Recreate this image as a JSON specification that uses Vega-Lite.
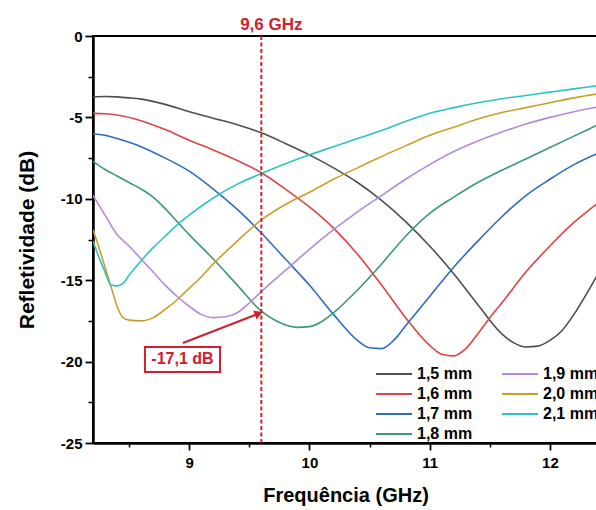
{
  "$schema": "https://vega.github.io/schema/vega-lite/v6.json",
  "width": 505,
  "height": 407,
  "autosize": {"type": "none"},
  "padding": {"left": 93, "top": 36, "right": 0, "bottom": 67},
  "background": "white",
  "config": {
    "font": "Liberation Sans",
    "view": {"stroke": "black", "strokeWidth": 2}
  },
  "datasets": {
    "curves": [
      {"s": "1,5 mm", "f": 8.2, "r": -3.75}, {"s": "1,5 mm", "f": 8.3, "r": -3.72}, {"s": "1,5 mm", "f": 8.4, "r": -3.74}, {"s": "1,5 mm", "f": 8.5, "r": -3.8}, {"s": "1,5 mm", "f": 8.6, "r": -3.88}, {"s": "1,5 mm", "f": 8.8, "r": -4.2}, {"s": "1,5 mm", "f": 9.0, "r": -4.65}, {"s": "1,5 mm", "f": 9.2, "r": -5.05}, {"s": "1,5 mm", "f": 9.4, "r": -5.45}, {"s": "1,5 mm", "f": 9.6, "r": -5.95}, {"s": "1,5 mm", "f": 9.8, "r": -6.6}, {"s": "1,5 mm", "f": 10.0, "r": -7.3}, {"s": "1,5 mm", "f": 10.2, "r": -8.1}, {"s": "1,5 mm", "f": 10.4, "r": -9.0}, {"s": "1,5 mm", "f": 10.6, "r": -10.1}, {"s": "1,5 mm", "f": 10.8, "r": -11.4}, {"s": "1,5 mm", "f": 11.0, "r": -12.9}, {"s": "1,5 mm", "f": 11.2, "r": -14.6}, {"s": "1,5 mm", "f": 11.4, "r": -16.5}, {"s": "1,5 mm", "f": 11.6, "r": -18.3}, {"s": "1,5 mm", "f": 11.7, "r": -18.85}, {"s": "1,5 mm", "f": 11.8, "r": -19.1}, {"s": "1,5 mm", "f": 11.9, "r": -19.05}, {"s": "1,5 mm", "f": 12.0, "r": -18.7}, {"s": "1,5 mm", "f": 12.1, "r": -18.1}, {"s": "1,5 mm", "f": 12.2, "r": -17.1}, {"s": "1,5 mm", "f": 12.3, "r": -15.9}, {"s": "1,5 mm", "f": 12.4, "r": -14.6},
      {"s": "1,6 mm", "f": 8.2, "r": -4.75}, {"s": "1,6 mm", "f": 8.3, "r": -4.78}, {"s": "1,6 mm", "f": 8.4, "r": -4.85}, {"s": "1,6 mm", "f": 8.6, "r": -5.2}, {"s": "1,6 mm", "f": 8.8, "r": -5.75}, {"s": "1,6 mm", "f": 9.0, "r": -6.4}, {"s": "1,6 mm", "f": 9.2, "r": -7.0}, {"s": "1,6 mm", "f": 9.4, "r": -7.65}, {"s": "1,6 mm", "f": 9.6, "r": -8.4}, {"s": "1,6 mm", "f": 9.8, "r": -9.4}, {"s": "1,6 mm", "f": 10.0, "r": -10.5}, {"s": "1,6 mm", "f": 10.2, "r": -11.8}, {"s": "1,6 mm", "f": 10.4, "r": -13.4}, {"s": "1,6 mm", "f": 10.6, "r": -15.3}, {"s": "1,6 mm", "f": 10.8, "r": -17.3}, {"s": "1,6 mm", "f": 11.0, "r": -19.0}, {"s": "1,6 mm", "f": 11.1, "r": -19.55}, {"s": "1,6 mm", "f": 11.2, "r": -19.65}, {"s": "1,6 mm", "f": 11.3, "r": -19.2}, {"s": "1,6 mm", "f": 11.4, "r": -18.3}, {"s": "1,6 mm", "f": 11.5, "r": -17.3}, {"s": "1,6 mm", "f": 11.6, "r": -16.4}, {"s": "1,6 mm", "f": 11.8, "r": -14.5}, {"s": "1,6 mm", "f": 12.0, "r": -12.9}, {"s": "1,6 mm", "f": 12.2, "r": -11.45}, {"s": "1,6 mm", "f": 12.4, "r": -10.25},
      {"s": "1,7 mm", "f": 8.2, "r": -6.0}, {"s": "1,7 mm", "f": 8.3, "r": -6.1}, {"s": "1,7 mm", "f": 8.4, "r": -6.3}, {"s": "1,7 mm", "f": 8.6, "r": -6.8}, {"s": "1,7 mm", "f": 8.8, "r": -7.5}, {"s": "1,7 mm", "f": 9.0, "r": -8.3}, {"s": "1,7 mm", "f": 9.2, "r": -9.4}, {"s": "1,7 mm", "f": 9.4, "r": -10.65}, {"s": "1,7 mm", "f": 9.6, "r": -12.1}, {"s": "1,7 mm", "f": 9.8, "r": -13.7}, {"s": "1,7 mm", "f": 10.0, "r": -15.3}, {"s": "1,7 mm", "f": 10.2, "r": -17.1}, {"s": "1,7 mm", "f": 10.4, "r": -18.7}, {"s": "1,7 mm", "f": 10.5, "r": -19.15}, {"s": "1,7 mm", "f": 10.6, "r": -19.2}, {"s": "1,7 mm", "f": 10.7, "r": -18.7}, {"s": "1,7 mm", "f": 10.8, "r": -17.8}, {"s": "1,7 mm", "f": 11.0, "r": -16.0}, {"s": "1,7 mm", "f": 11.2, "r": -14.2}, {"s": "1,7 mm", "f": 11.4, "r": -12.6}, {"s": "1,7 mm", "f": 11.6, "r": -11.1}, {"s": "1,7 mm", "f": 11.8, "r": -9.8}, {"s": "1,7 mm", "f": 12.0, "r": -8.8}, {"s": "1,7 mm", "f": 12.2, "r": -7.9}, {"s": "1,7 mm", "f": 12.4, "r": -7.2},
      {"s": "1,8 mm", "f": 8.2, "r": -7.7}, {"s": "1,8 mm", "f": 8.3, "r": -8.2}, {"s": "1,8 mm", "f": 8.4, "r": -8.6}, {"s": "1,8 mm", "f": 8.5, "r": -9.0}, {"s": "1,8 mm", "f": 8.6, "r": -9.4}, {"s": "1,8 mm", "f": 8.7, "r": -9.9}, {"s": "1,8 mm", "f": 8.8, "r": -10.6}, {"s": "1,8 mm", "f": 8.9, "r": -11.4}, {"s": "1,8 mm", "f": 9.0, "r": -12.2}, {"s": "1,8 mm", "f": 9.2, "r": -13.7}, {"s": "1,8 mm", "f": 9.4, "r": -15.3}, {"s": "1,8 mm", "f": 9.6, "r": -16.9}, {"s": "1,8 mm", "f": 9.7, "r": -17.4}, {"s": "1,8 mm", "f": 9.8, "r": -17.75}, {"s": "1,8 mm", "f": 9.9, "r": -17.9}, {"s": "1,8 mm", "f": 10.0, "r": -17.85}, {"s": "1,8 mm", "f": 10.1, "r": -17.55}, {"s": "1,8 mm", "f": 10.2, "r": -17.0}, {"s": "1,8 mm", "f": 10.4, "r": -15.6}, {"s": "1,8 mm", "f": 10.6, "r": -14.0}, {"s": "1,8 mm", "f": 10.8, "r": -12.3}, {"s": "1,8 mm", "f": 11.0, "r": -10.9}, {"s": "1,8 mm", "f": 11.2, "r": -9.9}, {"s": "1,8 mm", "f": 11.4, "r": -9.0}, {"s": "1,8 mm", "f": 11.6, "r": -8.25}, {"s": "1,8 mm", "f": 11.8, "r": -7.55}, {"s": "1,8 mm", "f": 12.0, "r": -6.85}, {"s": "1,8 mm", "f": 12.2, "r": -6.15}, {"s": "1,8 mm", "f": 12.4, "r": -5.45},
      {"s": "1,9 mm", "f": 8.2, "r": -9.8}, {"s": "1,9 mm", "f": 8.3, "r": -11.0}, {"s": "1,9 mm", "f": 8.4, "r": -12.2}, {"s": "1,9 mm", "f": 8.5, "r": -12.9}, {"s": "1,9 mm", "f": 8.6, "r": -13.7}, {"s": "1,9 mm", "f": 8.7, "r": -14.5}, {"s": "1,9 mm", "f": 8.8, "r": -15.3}, {"s": "1,9 mm", "f": 8.9, "r": -16.0}, {"s": "1,9 mm", "f": 9.0, "r": -16.6}, {"s": "1,9 mm", "f": 9.1, "r": -17.1}, {"s": "1,9 mm", "f": 9.2, "r": -17.3}, {"s": "1,9 mm", "f": 9.3, "r": -17.25}, {"s": "1,9 mm", "f": 9.4, "r": -17.0}, {"s": "1,9 mm", "f": 9.5, "r": -16.4}, {"s": "1,9 mm", "f": 9.6, "r": -15.7}, {"s": "1,9 mm", "f": 9.8, "r": -14.4}, {"s": "1,9 mm", "f": 10.0, "r": -13.1}, {"s": "1,9 mm", "f": 10.2, "r": -11.9}, {"s": "1,9 mm", "f": 10.4, "r": -10.8}, {"s": "1,9 mm", "f": 10.6, "r": -9.8}, {"s": "1,9 mm", "f": 10.8, "r": -8.8}, {"s": "1,9 mm", "f": 11.0, "r": -7.9}, {"s": "1,9 mm", "f": 11.2, "r": -7.1}, {"s": "1,9 mm", "f": 11.4, "r": -6.45}, {"s": "1,9 mm", "f": 11.6, "r": -5.9}, {"s": "1,9 mm", "f": 11.8, "r": -5.4}, {"s": "1,9 mm", "f": 12.0, "r": -5.0}, {"s": "1,9 mm", "f": 12.2, "r": -4.65}, {"s": "1,9 mm", "f": 12.4, "r": -4.35},
      {"s": "2,0 mm", "f": 8.2, "r": -11.9}, {"s": "2,0 mm", "f": 8.25, "r": -13.0}, {"s": "2,0 mm", "f": 8.3, "r": -14.2}, {"s": "2,0 mm", "f": 8.35, "r": -15.4}, {"s": "2,0 mm", "f": 8.4, "r": -16.6}, {"s": "2,0 mm", "f": 8.45, "r": -17.3}, {"s": "2,0 mm", "f": 8.5, "r": -17.45}, {"s": "2,0 mm", "f": 8.6, "r": -17.5}, {"s": "2,0 mm", "f": 8.7, "r": -17.3}, {"s": "2,0 mm", "f": 8.8, "r": -16.8}, {"s": "2,0 mm", "f": 8.9, "r": -16.2}, {"s": "2,0 mm", "f": 9.0, "r": -15.5}, {"s": "2,0 mm", "f": 9.1, "r": -14.8}, {"s": "2,0 mm", "f": 9.2, "r": -14.0}, {"s": "2,0 mm", "f": 9.4, "r": -12.6}, {"s": "2,0 mm", "f": 9.6, "r": -11.3}, {"s": "2,0 mm", "f": 9.8, "r": -10.35}, {"s": "2,0 mm", "f": 10.0, "r": -9.6}, {"s": "2,0 mm", "f": 10.2, "r": -8.8}, {"s": "2,0 mm", "f": 10.4, "r": -8.1}, {"s": "2,0 mm", "f": 10.6, "r": -7.4}, {"s": "2,0 mm", "f": 10.8, "r": -6.75}, {"s": "2,0 mm", "f": 11.0, "r": -6.1}, {"s": "2,0 mm", "f": 11.2, "r": -5.6}, {"s": "2,0 mm", "f": 11.4, "r": -5.1}, {"s": "2,0 mm", "f": 11.6, "r": -4.7}, {"s": "2,0 mm", "f": 11.8, "r": -4.4}, {"s": "2,0 mm", "f": 12.0, "r": -4.1}, {"s": "2,0 mm", "f": 12.2, "r": -3.8}, {"s": "2,0 mm", "f": 12.4, "r": -3.55},
      {"s": "2,1 mm", "f": 8.2, "r": -12.6}, {"s": "2,1 mm", "f": 8.25, "r": -13.6}, {"s": "2,1 mm", "f": 8.3, "r": -14.5}, {"s": "2,1 mm", "f": 8.35, "r": -15.3}, {"s": "2,1 mm", "f": 8.4, "r": -15.35}, {"s": "2,1 mm", "f": 8.45, "r": -15.2}, {"s": "2,1 mm", "f": 8.5, "r": -14.7}, {"s": "2,1 mm", "f": 8.6, "r": -13.8}, {"s": "2,1 mm", "f": 8.7, "r": -13.0}, {"s": "2,1 mm", "f": 8.8, "r": -12.3}, {"s": "2,1 mm", "f": 8.9, "r": -11.6}, {"s": "2,1 mm", "f": 9.0, "r": -11.0}, {"s": "2,1 mm", "f": 9.2, "r": -9.95}, {"s": "2,1 mm", "f": 9.4, "r": -9.1}, {"s": "2,1 mm", "f": 9.6, "r": -8.45}, {"s": "2,1 mm", "f": 9.8, "r": -7.85}, {"s": "2,1 mm", "f": 10.0, "r": -7.3}, {"s": "2,1 mm", "f": 10.2, "r": -6.8}, {"s": "2,1 mm", "f": 10.4, "r": -6.3}, {"s": "2,1 mm", "f": 10.6, "r": -5.8}, {"s": "2,1 mm", "f": 10.8, "r": -5.25}, {"s": "2,1 mm", "f": 11.0, "r": -4.75}, {"s": "2,1 mm", "f": 11.2, "r": -4.4}, {"s": "2,1 mm", "f": 11.4, "r": -4.1}, {"s": "2,1 mm", "f": 11.6, "r": -3.85}, {"s": "2,1 mm", "f": 11.8, "r": -3.65}, {"s": "2,1 mm", "f": 12.0, "r": -3.45}, {"s": "2,1 mm", "f": 12.2, "r": -3.25}, {"s": "2,1 mm", "f": 12.4, "r": -3.05}
    ]
  },
  "layer": [
    {
      "data": {"name": "curves"},
      "mark": {"type": "line", "strokeWidth": 1.6, "clip": true, "interpolate": "monotone"},
      "encoding": {
        "x": {
          "field": "f", "type": "quantitative",
          "scale": {"domain": [8.2, 12.4], "nice": false, "zero": false},
          "axis": {
            "orient": "bottom", "values": [9, 10, 11, 12], "title": "Frequência (GHz)",
            "grid": false, "domainColor": "black", "domainWidth": 2.5,
            "tickColor": "black", "tickWidth": 1.8, "tickSize": 7,
            "labelFontSize": 15, "labelFontWeight": "bold", "labelColor": "black", "labelPadding": 5,
            "titleFontSize": 20, "titleFontWeight": "bold", "titleColor": "black", "titlePadding": 15
          }
        },
        "y": {
          "field": "r", "type": "quantitative",
          "scale": {"domain": [-25, 0], "nice": false, "zero": false},
          "axis": {
            "orient": "left", "values": [-25, -20, -15, -10, -5, 0], "title": "Refletividade (dB)",
            "labelExpr": "datum.value < 0 ? '-' + abs(datum.value) : '' + datum.value",
            "grid": false, "domainColor": "black", "domainWidth": 2.5,
            "tickColor": "black", "tickWidth": 1.8, "tickSize": 8,
            "labelFontSize": 15, "labelFontWeight": "bold", "labelColor": "black", "labelPadding": 3,
            "titleFontSize": 21, "titleFontWeight": "bold", "titleColor": "black", "titlePadding": 23
          }
        },
        "color": {
          "field": "s", "type": "nominal",
          "scale": {
            "domain": ["1,5 mm", "1,6 mm", "1,7 mm", "1,8 mm", "1,9 mm", "2,0 mm", "2,1 mm"],
            "range": ["#4f4f4f", "#dc4447", "#2f6cc0", "#3c9a72", "#b48ade", "#c9a027", "#2cc3c6"]
          },
          "legend": {
            "title": null, "orient": "none", "legendX": 300, "legendY": 328,
            "columns": 2, "columnPadding": 25, "rowPadding": 2, "padding": 0,
            "symbolType": "M-3,0H1", "symbolSize": 324, "symbolStrokeWidth": 2,
            "labelFontSize": 16, "labelFontWeight": "bold", "labelColor": "black", "labelOffset": 4
          }
        }
      }
    },
    {
      "data": {"values": [{"f1": 8.632, "f2": 9.256, "r1": -19.1, "r2": -20.64}]},
      "mark": {"type": "rect", "fill": "white", "stroke": "#d0202e", "strokeWidth": 2},
      "encoding": {
        "x": {"field": "f1", "type": "quantitative",
          "axis": {"orient": "bottom", "values": [8.5, 9.5, 10.5, 11.5], "labels": false, "domain": false, "title": null, "grid": false, "tickColor": "black", "tickWidth": 1.5, "tickSize": 4}},
        "x2": {"field": "f2"},
        "y": {"field": "r1", "type": "quantitative",
          "axis": {"orient": "left", "values": [-22.5, -17.5, -12.5, -7.5, -2.5], "labels": false, "domain": false, "title": null, "grid": false, "tickColor": "black", "tickWidth": 1.5, "tickSize": 5}},
        "y2": {"field": "r2"}
      }
    },
    {
      "data": {"values": [{"f": 8.944, "r": -19.87, "t": "-17,1 dB"}]},
      "mark": {"type": "text", "color": "#d0202e", "fontSize": 16, "fontWeight": "bold", "align": "center", "baseline": "middle"},
      "encoding": {
        "x": {"field": "f", "type": "quantitative", "axis": null},
        "y": {"field": "r", "type": "quantitative", "axis": null},
        "text": {"field": "t"}
      }
    },
    {
      "data": {"values": [{"f": 9.6}]},
      "mark": {"type": "rule", "color": "#d0202e", "strokeWidth": 2, "strokeDash": [4, 2.5]},
      "encoding": {
        "x": {"field": "f", "type": "quantitative", "axis": null}
      }
    },
    {
      "data": {"values": [{"f": 9.6, "r": 0, "t": "9,6 GHz"}]},
      "mark": {"type": "text", "color": "#d0202e", "fontSize": 17, "fontWeight": "bold", "align": "center", "baseline": "middle", "dx": 10, "dy": -11},
      "encoding": {
        "x": {"field": "f", "type": "quantitative", "axis": null},
        "y": {"field": "r", "type": "quantitative", "axis": null},
        "text": {"field": "t"}
      }
    },
    {
      "data": {"values": [{"f": 8.948, "r": -18.86}, {"f": 9.578, "r": -17.05}]},
      "mark": {"type": "line", "color": "#d0202e", "strokeWidth": 2},
      "encoding": {
        "x": {"field": "f", "type": "quantitative", "axis": null},
        "y": {"field": "r", "type": "quantitative", "axis": null}
      }
    },
    {
      "data": {"values": [{"f": 9.578, "r": -17.05}]},
      "mark": {"type": "point", "shape": "triangle-right", "size": 90, "filled": true, "color": "#d0202e", "opacity": 1, "angle": -21},
      "encoding": {
        "x": {"field": "f", "type": "quantitative", "axis": null},
        "y": {"field": "r", "type": "quantitative", "axis": null}
      }
    }
  ],
  "resolve": {"axis": {"x": "independent", "y": "independent"}}
}
